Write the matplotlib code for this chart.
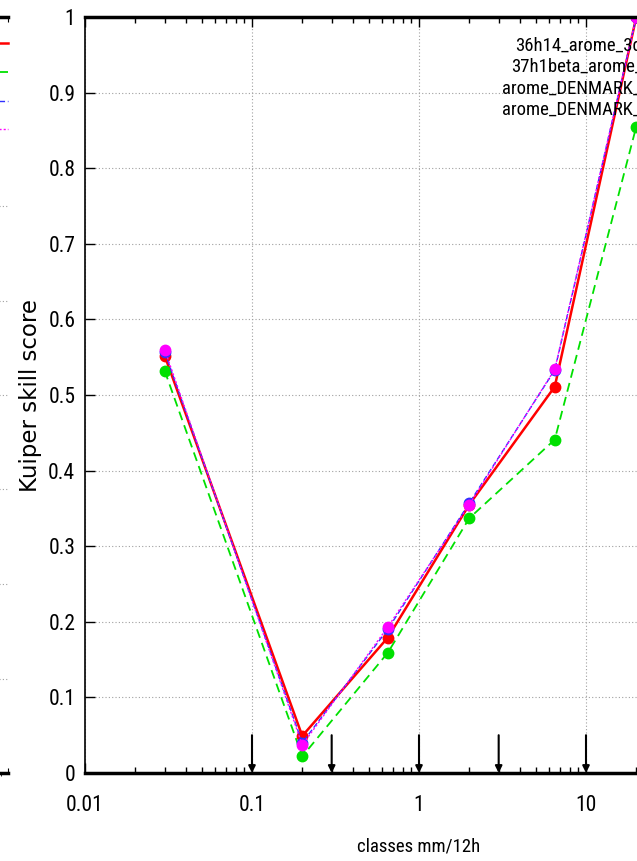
import numpy as np
import matplotlib
matplotlib.use("Agg")
import matplotlib.pyplot as plt
from matplotlib import font_manager
from matplotlib.ticker import FixedLocator, LogLocator, FormatStrFormatter, NullFormatter

# class centres (mm/12h) and thresholds
classes = [0.03, 0.2, 0.65, 2.0, 6.5, 20.0]
thresholds = [0.1, 0.3, 1, 3, 10, 30]

labels = ["36h14_arome_3dvar_2", "37h1beta_arome_DK3d",
          "arome_DENMARK_3dvar", "arome_DENMARK_4dvar"]
red_ks = [0.552, 0.049, 0.179, 0.355, 0.511, 1.0]
green_ks = [0.532, 0.022, 0.159, 0.337, 0.441, 0.855]
blue_ks = [0.557, 0.040, 0.190, 0.357, 0.533, 1.0]
magenta_ks = [0.560, 0.037, 0.193, 0.355, 0.534, 1.0]

series = [red_ks, green_ks, blue_ks, magenta_ks]
colors = ["#ff0000", "#00e000", "#3030ff", "#ff00ff"]
styles = [dict(ls="-", lw=1.8), dict(ls=(0, (5, 3)), lw=1.3),
          dict(ls=(0, (4, 2)), lw=1.0), dict(ls=(0, (1.5, 1.5)), lw=1.0)]

# pick a narrow font if one is around (gnuplot text is quite condensed)
installed = {f.name for f in font_manager.fontManager.ttflist}
narrow_name = "Liberation Sans"
narrow_stretch = "normal"
for n in ["Liberation Sans Narrow", "Roboto Condensed", "Open Sans Condensed",
          "Noto Sans Condensed", "DejaVu Sans Condensed"]:
    if n in installed:
        narrow_name = n
        break
else:
    for f in font_manager.fontManager.ttflist:
        if f.name in ("Noto Sans", "Open Sans", "Roboto") and str(f.stretch) in (
                "condensed", "semi-condensed", "extra-condensed", "75", "62.5", "87.5"):
            narrow_name, narrow_stretch = f.name, f.stretch
            break
narrow = dict(family=[narrow_name, "DejaVu Sans"], stretch=narrow_stretch)

W, H = 637, 861
fig = plt.figure(figsize=(W / 100, H / 100), dpi=100)

# main panel: x range 0.01..100, part of it falls outside the picture
ax = fig.add_axes([85 / W, 88 / H, 668 / W, 756 / H])
for s, c, st, lab in zip(series, colors, styles, labels):
    ax.plot(classes, s, color=c, marker="o", ms=7.5, label=lab, **st)

for t in thresholds:
    ax.annotate("", xy=(t, 0.0), xytext=(t, 0.05),
                arrowprops=dict(arrowstyle="-|>", color="black", lw=1.5,
                                mutation_scale=10, shrinkA=0, shrinkB=0))

ax.set_xscale("log")
ax.set_xlim(0.01, 100)
ax.set_ylim(0, 1)
ax.yaxis.set_major_locator(FixedLocator(np.arange(0, 1.01, 0.1)))
ax.yaxis.set_major_formatter(FormatStrFormatter("%g"))
ax.xaxis.set_major_locator(LogLocator(base=10))
ax.xaxis.set_minor_locator(LogLocator(base=10, subs=np.arange(2, 10)))
ax.xaxis.set_major_formatter(FormatStrFormatter("%g"))
ax.xaxis.set_minor_formatter(NullFormatter())
ax.tick_params(axis="both", which="major", direction="in", length=7, width=1,
               top=True, right=True)
ax.tick_params(axis="y", pad=7)
ax.tick_params(axis="x", pad=16)
ax.tick_params(axis="x", which="minor", direction="in", length=4, width=1, top=True)
for lab in ax.get_xticklabels() + ax.get_yticklabels():
    lab.set_family(narrow["family"])
    lab.set_stretch(narrow["stretch"])
    lab.set_fontsize(15.5)
ax.grid(True, which="major", ls=(0, (1, 2)), color="#a0a0a0", lw=0.8)

ax.spines["top"].set_linewidth(2.5)
ax.spines["bottom"].set_linewidth(2.5)
ax.spines["left"].set_linewidth(1.2)

ax.set_xlabel("classes mm/12h", fontsize=13.5, labelpad=15, **narrow)
fig.text(30 / W, 1 - 396 / H, "Kuiper skill score", rotation=90,
         ha="center", va="center", family="DejaVu Sans", fontsize=16.5)

leg = ax.legend(loc="upper right", bbox_to_anchor=(1.010, 1), markerfirst=False,
                frameon=False, prop=dict(size=13.5, **narrow),
                labelspacing=0.18, handlelength=2.5, handletextpad=0.6,
                borderaxespad=0.65, borderpad=0.4, markerscale=0)

# neighbouring panel, only its right edge shows on the left
ax0 = fig.add_axes([-0.9, 88 / H, 0.9 + 8 / W, 756 / H])
for s, c, st, lab in zip(series, colors, styles, labels):
    ax0.plot(classes, s, color=c, label=lab, **st)
ax0.set_xscale("log")
ax0.set_xlim(0.01, 100)
ax0.set_ylim(0, 0.8)
ax0.yaxis.set_major_locator(FixedLocator(np.arange(0, 0.81, 0.1)))
ax0.grid(True, axis="y", ls=(0, (1, 2)), color="#a0a0a0", lw=0.8)
ax0.tick_params(labelleft=False, labelbottom=False, direction="in", top=True,
                left=False)
ax0.spines["right"].set_visible(False)
ax0.spines["top"].set_linewidth(2.5)
ax0.spines["bottom"].set_linewidth(2.5)
ax0.legend(loc="upper right", bbox_to_anchor=(1, 1 - 18 / 756), markerfirst=False,
           frameon=True, edgecolor="white", framealpha=1, fancybox=False,
           prop=dict(size=14), labelspacing=0.45, handlelength=2.5,
           borderaxespad=0, borderpad=0)

fig.savefig("out.png", dpi=100)
